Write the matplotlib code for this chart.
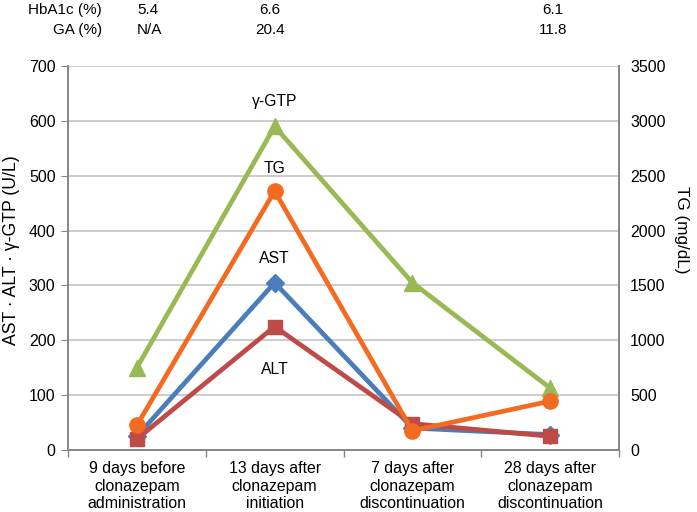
import matplotlib
matplotlib.use("Agg")
import matplotlib.pyplot as plt
import numpy as np

plt.rcParams['font.family'] = ['Liberation Sans', 'DejaVu Sans']

categories = ["9 days before\nclonazepam\nadministration",
              "13 days after\nclonazepam\ninitiation",
              "7 days after\nclonazepam\ndiscontinuation",
              "28 days after\nclonazepam\ndiscontinuation"]
ast = [25, 305, 40, 28]
alt = [20, 225, 48, 25]
ggtp = [150, 590, 305, 113]
tg = [225, 2360, 175, 445]

hba1c = ["5.4", "6.6", None, "6.1"]
ga = ["N/A", "20.4", None, "11.8"]

c_ast = "#4A7EBB"
c_alt = "#BE4B48"
c_tg = "#F26B21"
c_ggtp = "#98B954"
grid_c = "#C4C4C4"
spine_c = "#868686"

fig = plt.figure(figsize=(6.97, 5.12), dpi=100)
ax = fig.add_axes([68/697, 1-450/512, (619-68)/697, (450-66)/512])
ax2 = ax.twinx()

x = np.arange(len(categories))
lw = 3.4
ax.plot(x, ggtp, color=c_ggtp, lw=lw, marker="^", ms=12, zorder=3)
ax.plot(x, ast, color=c_ast, lw=lw, marker="D", ms=9.5, zorder=4)
ax.plot(x, alt, color=c_alt, lw=lw, marker="s", ms=10.5, zorder=5)
ax2.plot(x, tg, color=c_tg, lw=lw, marker="o", ms=11, zorder=6)

ax.set_xlim(-0.5, 3.5)
ax.set_ylim(0, 700)
ax2.set_ylim(0, 3500)
ax.set_yticks(np.arange(0, 701, 100))
ax2.set_yticks(np.arange(0, 3501, 500))
ax.yaxis.grid(True, color=grid_c, lw=1.2)
ax.set_axisbelow(True)

fs_tick = 11.5
ax.set_xticks(x)
ax.set_xticklabels(categories, fontsize=11.4, linespacing=1.2)
ax.set_xticks(np.arange(-0.5, 3.6, 1), minor=True)
ax.tick_params(axis='x', which='major', length=0, pad=8)
ax.tick_params(axis='x', which='minor', length=5, color=spine_c, width=1)
ax.tick_params(axis='y', labelsize=fs_tick, length=5, color=spine_c, pad=4)
ax2.tick_params(axis='y', labelsize=fs_tick, length=0, pad=8)

for a in (ax, ax2):
    a.spines["top"].set_visible(False)
    for s in ["left", "right", "bottom"]:
        a.spines[s].set_color(spine_c)
        a.spines[s].set_linewidth(1.2)

ax.set_ylabel("AST \u00b7 ALT \u00b7 \u03b3-GTP (U/L)", fontsize=12.7)
ax.yaxis.set_label_coords((20-68)/551, (450-250)/384)
ax2.set_ylabel("TG (mg/dL)", fontsize=12.3, rotation=270, va="center")
ax2.yaxis.set_label_coords((681-68)/551, (450-230)/384)

# series labels
fs_lab = 11.3
ax.text(1, 636, "\u03b3-GTP", ha="center", va="center", fontsize=fs_lab)
ax.text(1, 513, "TG", ha="center", va="center", fontsize=fs_lab)
ax.text(1, 349, "AST", ha="center", va="center", fontsize=fs_lab)
ax.text(1, 146, "ALT", ha="center", va="center", fontsize=fs_lab)

# top table
fs_top = 11
fig.text(102/697, 1-10/512, "HbA1c (%)", ha="right", va="center", fontsize=fs_top)
fig.text(102/697, 1-30/512, "GA (%)", ha="right", va="center", fontsize=fs_top)
row_pos = [(137, "left"), (270, "center"), (410, "center"), (553, "center")]
for (px, ha), h, g in zip(row_pos, hba1c, ga):
    if h is not None:
        fig.text(px/697, 1-10/512, h, ha=ha, va="center", fontsize=fs_top)
    if g is not None:
        fig.text(px/697, 1-30/512, g, ha=ha, va="center", fontsize=fs_top)

fig.savefig("out.png", dpi=100)
